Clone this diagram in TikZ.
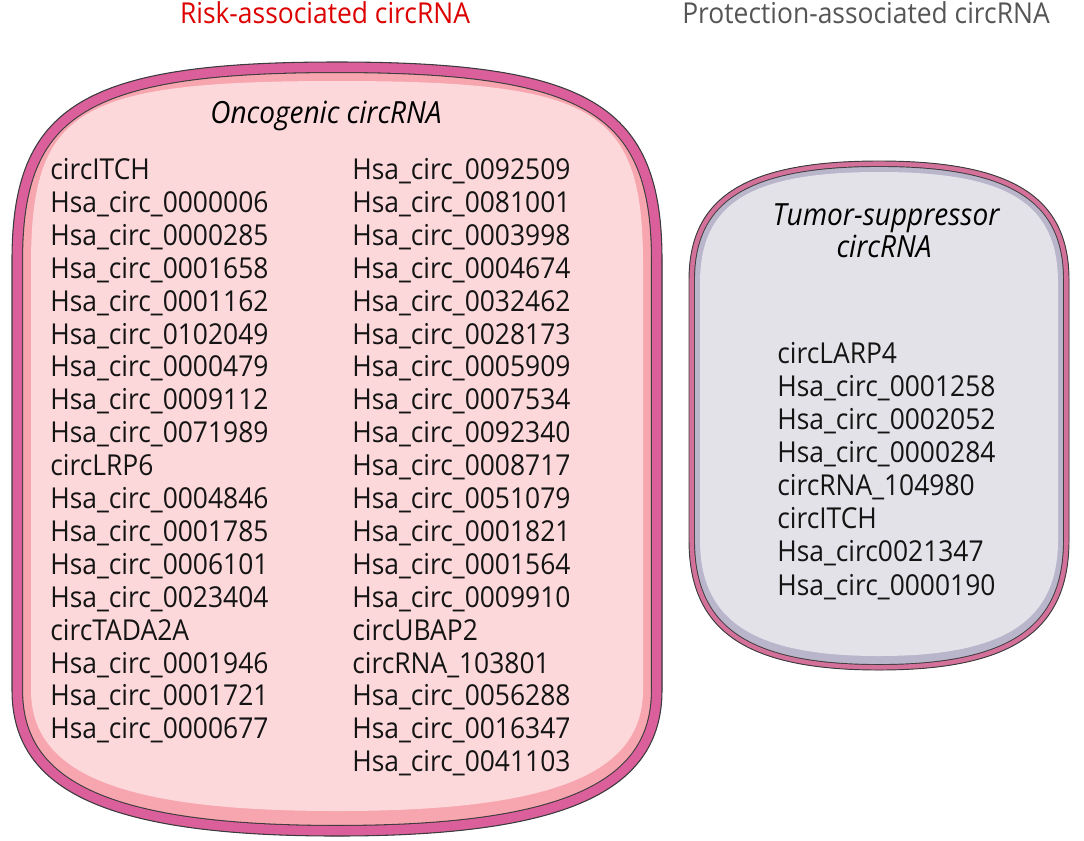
\documentclass[tikz,border=0pt]{standalone}
\usepackage{fontspec}
\setmainfont{Open Sans}[FakeStretch=0.917]
\usetikzlibrary{calc}

\definecolor{edgegray}{RGB}{60,60,60}
\definecolor{oncoband}{RGB}{219,95,155}
\definecolor{oncolight}{RGB}{247,166,175}
\definecolor{oncofill}{RGB}{252,216,219}
\definecolor{suppband}{RGB}{212,113,154}
\definecolor{supplight}{RGB}{185,182,204}
\definecolor{suppfill}{RGB}{227,226,233}
\definecolor{riskred}{RGB}{220,0,0}
\definecolor{protgray}{RGB}{85,85,85}

% cell outline: cx, half width, top, bottom, side top, side bottom, top/bottom control fractions
\newcommand{\membrane}[8]{({#1-#2},#5)
  .. controls ({#1-#2},{#5-#7*(#5-#3)}) and ({#1-#7*#2},#3) .. (#1,#3)
  .. controls ({#1+#7*#2},#3) and ({#1+#2},{#5-#7*(#5-#3)}) .. ({#1+#2},#5)
  -- ({#1+#2},#6)
  .. controls ({#1+#2},{#6+#8*(#4-#6)}) and ({#1+#8*#2},#4) .. (#1,#4)
  .. controls ({#1-#8*#2},#4) and ({#1-#2},{#6+#8*(#4-#6)}) .. ({#1-#2},#6) -- cycle}

\tikzset{
  item/.style={anchor=base west,inner sep=0pt,text={black!92},font=\fontsize{21.6}{26}\selectfont},
  heading/.style={anchor=base,inner sep=0pt,font=\fontsize{21.6}{26}\selectfont},
  boxtitle/.style={anchor=base,inner sep=0pt,text=black,font=\fontsize{22.9}{27}\selectfont\itshape}
}

\begin{document}
\begin{tikzpicture}[x=0.75pt,y=-0.75pt]
  \useasboundingbox (0,0) rectangle (1084,840);

  % oncogenic cell
  \fill[oncolight] \membrane{337}{325}{62}{836}{260}{690}{0.78}{0.7};
  \fill[oncofill] \membrane{337}{306}{81}{811}{265}{690}{0.85}{0.7};
  \begin{scope}
    \clip \membrane{337}{325}{62}{836}{260}{690}{0.78}{0.7};
    \draw[edgegray,line width=16.6pt] \membrane{337}{325}{62}{836}{260}{690}{0.78}{0.7};
    \draw[oncoband,line width=15pt] \membrane{337}{325}{62}{836}{260}{690}{0.78}{0.7};
  \end{scope}
  \draw[edgegray,line width=0.8pt] \membrane{337}{325}{62}{836}{260}{690}{0.78}{0.7};

  % tumor-suppressor cell
  \fill[supplight] \membrane{879}{190}{161}{670}{280}{540}{0.7}{0.7};
  \fill[suppfill] \membrane{879}{179}{172}{656}{283}{540}{0.72}{0.7};
  \begin{scope}
    \clip \membrane{879}{190}{161}{670}{280}{540}{0.7}{0.7};
    \draw[edgegray,line width=8.9pt] \membrane{879}{190}{161}{670}{280}{540}{0.7}{0.7};
    \draw[suppband,line width=7.5pt] \membrane{879}{190}{161}{670}{280}{540}{0.7}{0.7};
  \end{scope}
  \draw[edgegray,line width=0.7pt] \membrane{879}{190}{161}{670}{280}{540}{0.7}{0.7};

  % headings
  \node[heading,text=riskred] (risk) at (325,23) {Risk-associated circRNA};
  \node[heading,text=protgray] (prot) at (866,23) {Protection-associated circRNA};
  \node[boxtitle] (onco) at (326,123) {Oncogenic circRNA};
  \node[boxtitle] (supp1) at (886,225) {Tumor-suppressor};
  \node[boxtitle] (supp2) at (884,257) {circRNA};

  % lists
  \foreach \name [count=\i] in {circITCH,Hsa\_circ\_0000006,Hsa\_circ\_0000285,
      Hsa\_circ\_0001658,Hsa\_circ\_0001162,Hsa\_circ\_0102049,Hsa\_circ\_0000479,
      Hsa\_circ\_0009112,Hsa\_circ\_0071989,circLRP6,Hsa\_circ\_0004846,
      Hsa\_circ\_0001785,Hsa\_circ\_0006101,Hsa\_circ\_0023404,circTADA2A,
      Hsa\_circ\_0001946,Hsa\_circ\_0001721,Hsa\_circ\_0000677}
    \node[item] (oncoL\i) at (50,{179.5+(\i-1)*32.9}) {\name};

  \foreach \name [count=\i] in {Hsa\_circ\_0092509,Hsa\_circ\_0081001,
      Hsa\_circ\_0003998,Hsa\_circ\_0004674,Hsa\_circ\_0032462,Hsa\_circ\_0028173,
      Hsa\_circ\_0005909,Hsa\_circ\_0007534,Hsa\_circ\_0092340,Hsa\_circ\_0008717,
      Hsa\_circ\_0051079,Hsa\_circ\_0001821,Hsa\_circ\_0001564,Hsa\_circ\_0009910,
      circUBAP2,circRNA\_103801,Hsa\_circ\_0056288,Hsa\_circ\_0016347,Hsa\_circ\_0041103}
    \node[item] (oncoR\i) at (352,{179.5+(\i-1)*32.9}) {\name};

  \foreach \name [count=\i] in {circLARP4,Hsa\_circ\_0001258,Hsa\_circ\_0002052,
      Hsa\_circ\_0000284,circRNA\_104980,circITCH,Hsa\_circ0021347,Hsa\_circ\_0000190}
    \node[item] (suppL\i) at (777,{363.3+(\i-1)*33.1}) {\name};
\end{tikzpicture}
\end{document}
